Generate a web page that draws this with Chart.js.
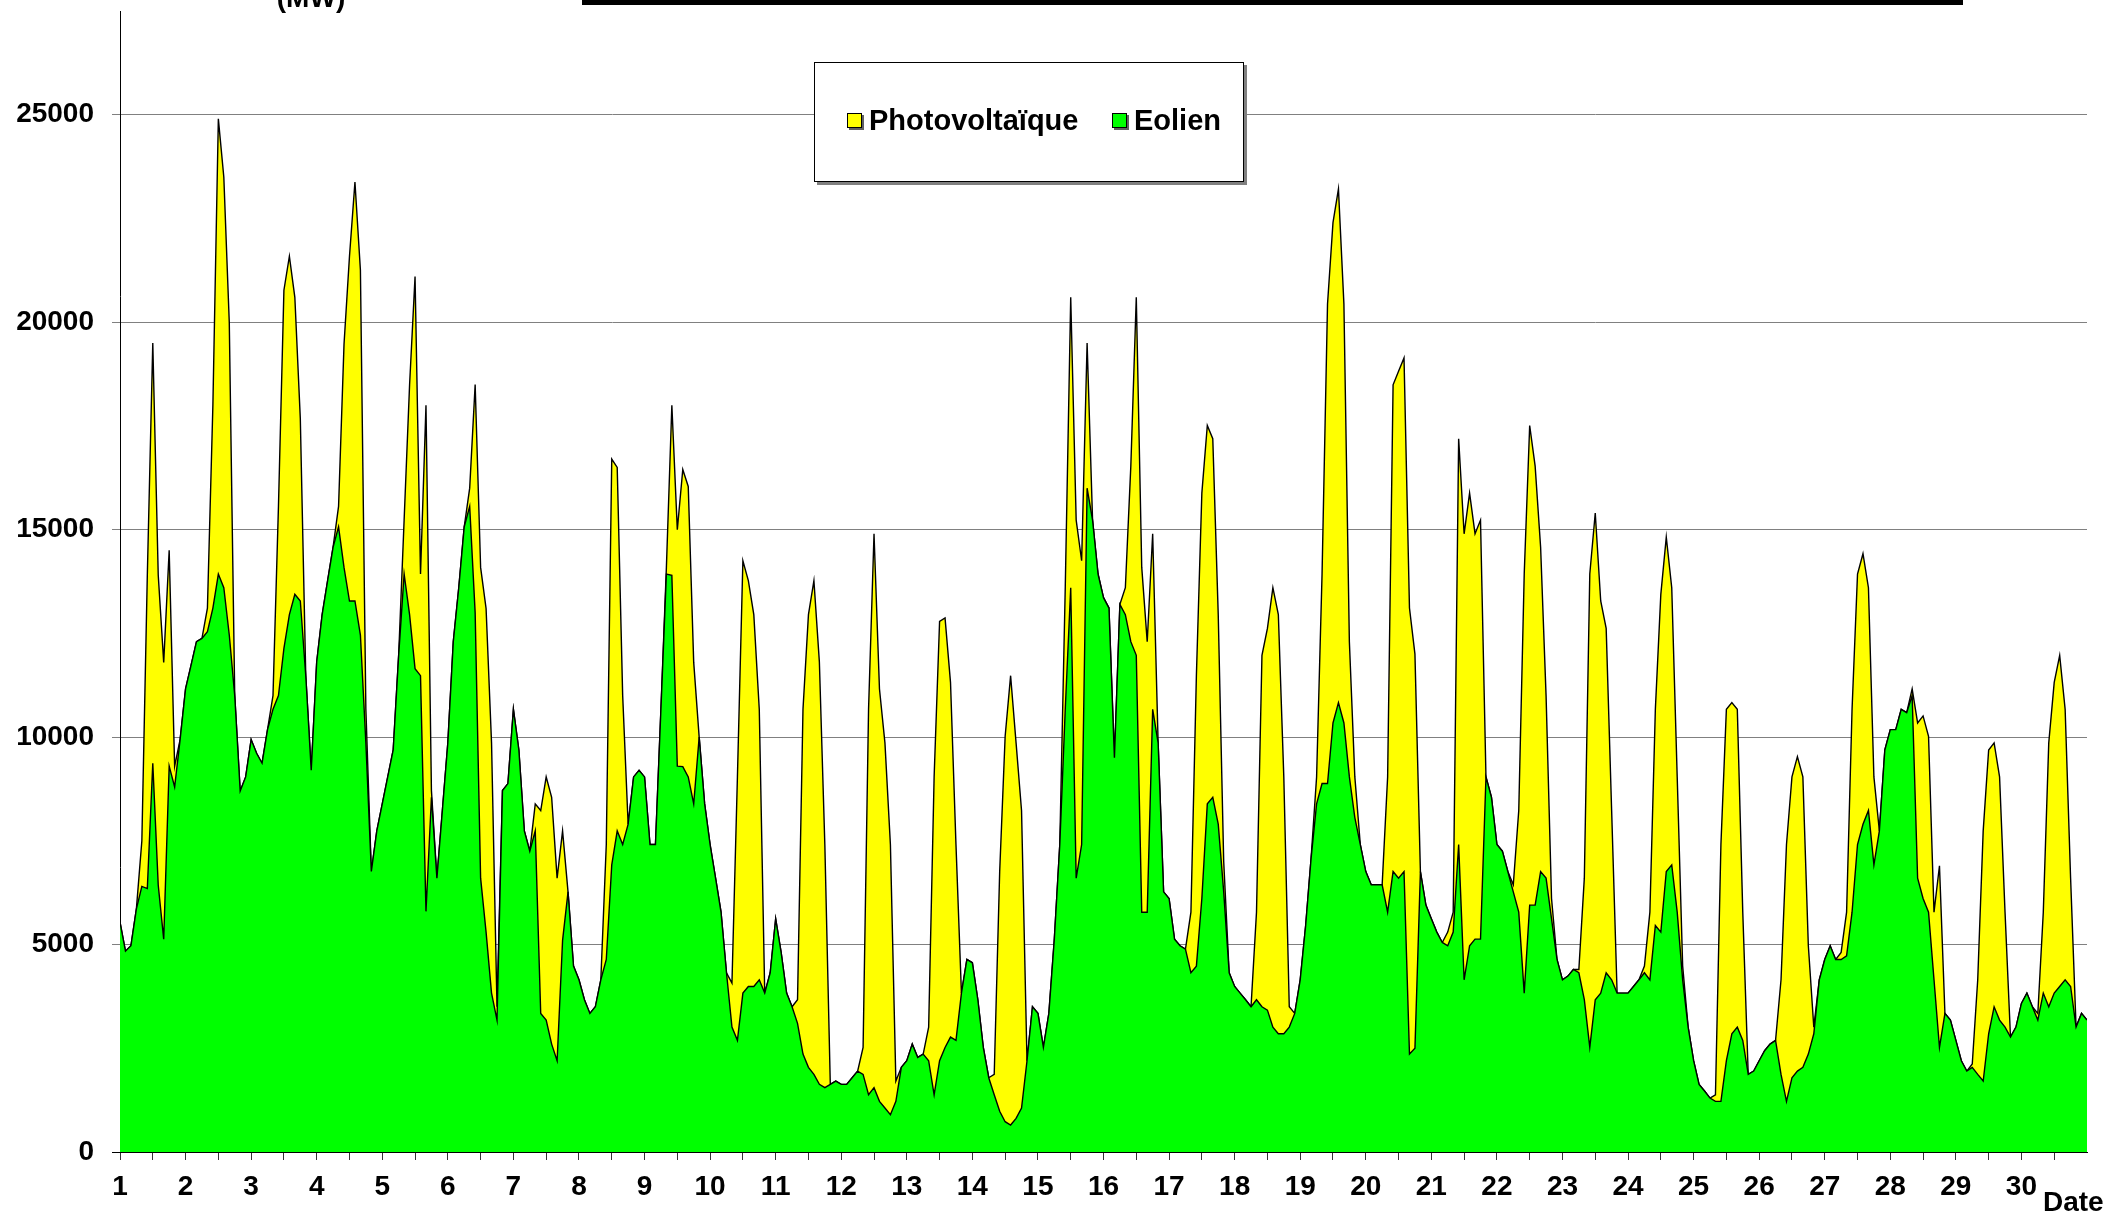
<!DOCTYPE html>
<html>
<head>
<meta charset="utf-8">
<title>Photovoltaïque et Eolien</title>
<script src="https://cdn.jsdelivr.net/npm/chart.js@4.4.1/dist/chart.umd.min.js"></script>
<style>
  html, body { margin: 0; padding: 0; background: #fff; }
  #wrap { width: 2113px; height: 1213px; }
</style>
</head>
<body>
<div id="wrap"><canvas id="prodChart" width="2113" height="1213"></canvas></div>
<script>
// Days of the month shown on the x axis
const days = [1, 2, 3, 4, 5, 6, 7, 8, 9, 10, 11, 12, 13, 14, 15,
  16, 17, 18, 19, 20, 21, 22, 23, 24, 25, 26, 27, 28, 29, 30];

// Y axis ticks (MW)
const yTicks = [0, 5000, 10000, 15000, 20000, 25000];

// One value every 2 hours (0h, 2h ... 22h), one line per day, plus the last point
const eolien = [
  5540, 4840, 4970, 5860, 6400, 6350, 9370, 6430, 5130, 9300, 8800, 9940,
  11160, 11730, 12300, 12380, 12540, 13110, 13930, 13600, 12460, 11000, 8700, 9040,
  9940, 9610, 9370, 10180, 10670, 11000, 12140, 12950, 13440, 13280, 11480, 9200,
  11810, 12950, 13770, 14580, 15070, 14090, 13280, 13280, 12460, 9860, 6760, 7740,
  8390, 9040, 9690, 11970, 13930, 12950, 11650, 11480, 5800, 8550, 6600, 8230,
  9860, 12300, 13600, 15070, 15560, 13000, 6600, 5300, 3830, 3180, 8710, 8880,
  10670, 9690, 7740, 7250, 7740, 3340, 3180, 2600, 2200, 5100, 6270, 4480,
  4150, 3670, 3340, 3500, 4150, 4640, 6920, 7740, 7410, 7900, 9040, 9200,
  9040, 7410, 7410, 10670, 13930, 13900, 9300, 9290, 9040, 8390, 10000, 8390,
  7410, 6600, 5780, 4320, 3010, 2690, 3830, 3990, 3990, 4150, 3830, 4320,
  5620, 4810, 3830, 3500, 3100, 2360, 2040, 1870, 1630, 1550, 1630, 1710,
  1630, 1630, 1790, 1950, 1870, 1380, 1550, 1220, 1060, 900, 1220, 2040,
  2200, 2600, 2280, 2360, 2200, 1380, 2200, 2520, 2770, 2690, 3830, 4640,
  4560, 3670, 2520, 1790, 1380, 980, 730, 650, 810, 1060, 2200, 3500,
  3340, 2520, 3340, 5130, 7410, 10670, 13600, 6600, 7410, 16000, 15230, 13930,
  13360, 13110, 9500, 13200, 12950, 12300, 11970, 5780, 5780, 10670, 9860, 6270,
  6110, 5130, 4970, 4890, 4320, 4480, 6110, 8390, 8550, 7900, 6270, 4320,
  3990, 3830, 3670, 3500, 3670, 3500, 3420, 3010, 2850, 2850, 3010, 3340,
  4150, 5460, 7090, 8390, 8880, 8880, 10340, 10830, 10340, 9040, 8060, 7410,
  6760, 6440, 6440, 6440, 5780, 6760, 6600, 6760, 2360, 2500, 6760, 5950,
  5620, 5300, 5050, 4970, 5300, 7410, 4150, 4970, 5130, 5130, 9040, 8550,
  7410, 7250, 6760, 6270, 5780, 3830, 5950, 5950, 6760, 6600, 5620, 4640,
  4150, 4240, 4400, 4320, 3670, 2520, 3670, 3830, 4320, 4150, 3830, 3830,
  3830, 3990, 4150, 4320, 4150, 5460, 5300, 6760, 6920, 5780, 4150, 3010,
  2200, 1630, 1470, 1300, 1220, 1220, 2200, 2850, 3010, 2690, 1870, 1950,
  2200, 2440, 2600, 2690, 1870, 1220, 1790, 1950, 2040, 2360, 2850, 4150,
  4640, 4970, 4640, 4640, 4730, 5780, 7410, 7900, 8230, 6920, 7740, 9690,
  10180, 10180, 10670, 10590, 11000, 6600, 6110, 5780, 4150, 2520, 3340, 3180,
  2690, 2200, 1950, 2040, 1870, 1710, 2850, 3500, 3180, 3010, 2770, 3010,
  3580, 3830, 3500, 3180, 3830, 3500, 3830, 3990, 4150, 3990, 3010, 3340,
  3180
];

const photovoltaique = [
  0, 0, 0, 0, 1100, 7550, 10130, 7470, 6670, 5200, 500, 0,
  0, 0, 0, 0, 570, 4890, 10970, 9900, 7540, 0, 0, 0,
  0, 0, 0, 0, 330, 4560, 8630, 8640, 7160, 4400, 0, 0,
  0, 0, 0, 0, 490, 5380, 8310, 10100, 8800, 810, 0, 0,
  0, 0, 0, 0, 1300, 5540, 9450, 2450, 12200, 160, 0, 0,
  0, 0, 0, 0, 440, 5500, 7490, 7800, 6030, 320, 0, 0,
  0, 0, 0, 0, 650, 4890, 5860, 5950, 4400, 2640, 0, 0,
  0, 0, 0, 0, 0, 2770, 9780, 8760, 3590, 0, 0, 0,
  0, 0, 0, 0, 160, 4100, 5700, 7160, 7000, 3410, 0, 0,
  0, 0, 0, 0, 1060, 6350, 10420, 9780, 8960, 6520, 0, 0,
  0, 0, 0, 0, 570, 8310, 10910, 11900, 10180, 5860, 0, 0,
  0, 0, 0, 0, 650, 9290, 13350, 9940, 8800, 6510, 490, 0,
  0, 0, 0, 0, 810, 7660, 10590, 10350, 8550, 4720, 0, 0,
  0, 0, 0, 0, 490, 5780, 9290, 10830, 9050, 7170, 0, 0,
  0, 0, 0, 0, 0, 2930, 7000, 8630, 6840, 3500, 0, 0,
  0, 0, 0, 0, 650, 4230, 8630, 8310, 6520, 4230, 0, 0,
  0, 0, 0, 0, 1460, 7000, 9770, 9120, 8640, 5050, 730, 0,
  0, 0, 0, 0, 2110, 8470, 9200, 10590, 10100, 6190, 490, 0,
  0, 0, 0, 650, 5050, 11560, 12060, 12380, 10100, 3260, 980, 0,
  0, 0, 0, 0, 3260, 11730, 12220, 12380, 10750, 9500, 0, 0,
  0, 0, 0, 330, 480, 9780, 10750, 10910, 9770, 10100, 0, 0,
  0, 0, 0, 170, 2450, 10100, 11560, 10580, 7820, 4400, 490, 0,
  0, 0, 0, 80, 2930, 11410, 11730, 9450, 8300, 4080, 0, 0,
  0, 0, 0, 160, 1630, 5210, 8140, 8060, 6680, 3260, 330, 0,
  0, 0, 0, 0, 160, 6190, 8470, 7980, 7660, 3090, 0, 0,
  0, 0, 0, 0, 2280, 6190, 7250, 7580, 7000, 2610, 160, 0,
  0, 0, 0, 170, 1050, 4890, 6520, 6520, 5370, 2120, 0, 0,
  0, 0, 0, 0, 160, 3740, 4400, 4240, 1630, 4380, 0, 0,
  0, 0, 0, 80, 2280, 6030, 6840, 6360, 5860, 2770, 0, 0,
  0, 0, 0, 160, 1950, 6360, 7490, 7980, 6520, 2610, 0, 0,
  0
];

const pointsPerDay = 12;
const FONT = 'Liberation Sans, Arial, sans-serif';

// ticks on each day and each half day, labels only on whole days
const xTicks = [];
days.forEach(d => { xTicks.push(d); xTicks.push(d + 0.5); });

function toPoints(values) {
  return values.map((v, i) => ({ x: days[0] + i / pointsPerDay, y: v }));
}

// legend box, "(MW)" unit, title frame edge and "Date" label
const decorPlugin = {
  id: 'decor',
  afterDraw(chart) {
    const ctx = chart.ctx;
    ctx.save();

    // bottom of the title frame, cut by the picture edge
    ctx.fillStyle = '#000';
    ctx.fillRect(582, 0, 1381, 5);

    ctx.font = 'bold 28px ' + FONT;
    ctx.textBaseline = 'alphabetic';
    ctx.textAlign = 'center';
    ctx.fillText('(MW)', 311, 7);

    ctx.textAlign = 'left';
    ctx.fillText('Date', 2043, 1211);

    // legend frame with shadow
    const lx = 814, ly = 62, lw = 430, lh = 120;
    ctx.fillStyle = '#808080';
    ctx.fillRect(lx + 3, ly + 3, lw, lh);
    ctx.fillStyle = '#fff';
    ctx.fillRect(lx, ly, lw, lh);
    ctx.strokeStyle = '#000';
    ctx.lineWidth = 1;
    ctx.strokeRect(lx + 0.5, ly + 0.5, lw - 1, lh - 1);

    const items = chart.data.datasets.slice().reverse();
    const itemX = [847, 1112];
    items.forEach((ds, i) => {
      const x = itemX[i], cy = 122;
      ctx.fillStyle = '#606060';
      ctx.fillRect(x + 2, cy - 7, 15, 15);
      ctx.fillStyle = ds.backgroundColor;
      ctx.fillRect(x, cy - 9, 15, 15);
      ctx.strokeStyle = '#000';
      ctx.strokeRect(x + 0.5, cy - 8.5, 14, 14);
      ctx.fillStyle = '#000';
      ctx.textBaseline = 'middle';
      ctx.font = 'bold 29px ' + FONT;
      ctx.fillText(ds.label, x + 22, cy);
    });

    ctx.restore();
  }
};

const chart = new Chart(document.getElementById('prodChart'), {
  type: 'line',
  data: {
    datasets: [
      {
        label: 'Eolien',
        data: toPoints(eolien),
        backgroundColor: '#00FF00',
        borderColor: '#000',
        borderWidth: 1.4,
        fill: 'origin',
        pointRadius: 0,
        tension: 0
      },
      {
        label: 'Photovoltaïque',
        data: toPoints(photovoltaique),
        backgroundColor: '#FFFF00',
        borderColor: '#000',
        borderWidth: 1.4,
        fill: '-1',
        pointRadius: 0,
        tension: 0
      }
    ]
  },
  options: {
    responsive: false,
    animation: false,
    layout: { padding: { top: 11, right: 26, left: 0, bottom: 0 } },
    plugins: {
      legend: { display: false },
      tooltip: { enabled: false }
    },
    scales: {
      x: {
        type: 'linear',
        min: days[0],
        max: days[days.length - 1] + 1,
        afterBuildTicks: s => { s.ticks = xTicks.map(v => ({ value: v })); },
        afterFit: s => { s.height = 61; s.paddingLeft = 0; s.paddingRight = 0; },
        ticks: {
          autoSkip: false,
          maxRotation: 0,
          minRotation: 0,
          padding: 10,
          color: '#000',
          font: { family: FONT, size: 28, weight: 'bold' },
          callback: v => (Number.isInteger(v) ? String(v) : '')
        },
        grid: { drawOnChartArea: false, drawTicks: true, tickLength: 8, color: '#333' },
        border: { display: true, color: '#000', width: 1 }
      },
      y: {
        stacked: true,
        min: 0,
        max: 27500,
        afterBuildTicks: s => { s.ticks = yTicks.map(v => ({ value: v })); },
        afterFit: s => { s.width = 120; s.paddingTop = 0; s.paddingBottom = 0; },
        ticks: {
          padding: 18,
          color: '#000',
          font: { family: FONT, size: 28, weight: 'bold' },
          callback: v => String(v)
        },
        grid: {
          tickLength: 8,
          lineWidth: 1,
          color: c => (c.tick && c.tick.value === 0 ? '#000' : '#808080')
        },
        border: { display: true, color: '#000', width: 1 }
      }
    }
  },
  plugins: [decorPlugin]
});
</script>
</body>
</html>
